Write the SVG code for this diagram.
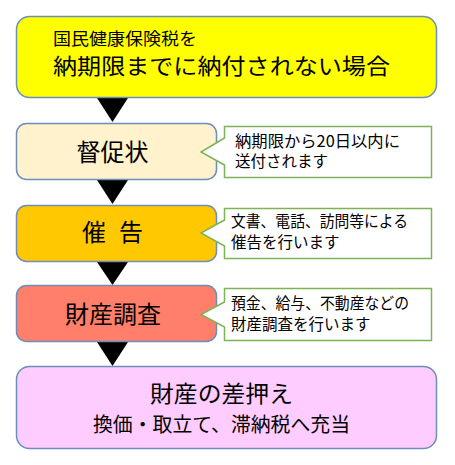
<svg xmlns="http://www.w3.org/2000/svg" width="455" height="465" viewBox="0 0 455 465">
<style>
.box{stroke:#6D8EBD;stroke-width:1.5}
.call{fill:#FFFFFF;stroke:#7DB354;stroke-width:1.5}
.arr{fill:#000000}
text{font-family:"Noto Sans CJK JP","Noto Sans CJK SC",sans-serif;fill:#000}
.big{font-size:24px;text-anchor:middle}
.note{font-size:15.5px}
</style>
<rect width="455" height="465" fill="#FFFFFF"/>
<g id="connectors">
<polygon class="arr" points="97,98 128,98 112.5,122"/>
<polygon class="arr" points="97,180 128,180 112.5,204"/>
<polygon class="arr" points="97,262 128,262 112.5,285"/>
<polygon class="arr" points="97,342 128,342 112.5,366"/>
</g>
<g id="start">
<rect class="box" x="16.5" y="16.5" width="420" height="81" rx="13" fill="#FFFF00"/>
<text x="53" y="45" font-size="16.5" textLength="144" lengthAdjust="spacingAndGlyphs">国民健康保険税を</text>
<text x="53" y="74" font-size="22" textLength="337" lengthAdjust="spacingAndGlyphs">納期限までに納付されない場合</text>
</g>
<g id="tokusoku">
<rect class="box" x="16.5" y="123.5" width="200" height="56" rx="10" fill="#FFF2CC"/>
<text class="big" x="112.5" y="161">督促状</text>
</g>
<g id="tokusoku-note">
<path class="call" d="M224.5,126.5 H431.5 V177.5 H224.5 V165 L201,152 L224.5,138 Z"/>
<text class="note" x="235" y="147" textLength="165" lengthAdjust="spacingAndGlyphs">納期限から20日以内に</text>
<text class="note" x="235" y="167">送付されます</text>
</g>
<g id="saikoku">
<rect class="box" x="16.5" y="205.5" width="200" height="56" rx="10" fill="#FFC800"/>
<text x="82" y="241" font-size="24">催<tspan x="119">告</tspan></text>
</g>
<g id="saikoku-note">
<path class="call" d="M224.5,208.5 H431.5 V258.5 H224.5 V246 L201,233 L224.5,220 Z"/>
<text class="note" x="231" y="227" textLength="177" lengthAdjust="spacingAndGlyphs">文書、電話、訪問等による</text>
<text class="note" x="231" y="247.5">催告を行います</text>
</g>
<g id="chousa">
<rect class="box" x="16.5" y="285.5" width="200" height="56" rx="10" fill="#FF7F6A"/>
<text class="big" x="113" y="323">財産調査</text>
</g>
<g id="chousa-note">
<path class="call" d="M224.5,288.5 H431.5 V340.5 H224.5 V327 L201,314.5 L224.5,302 Z"/>
<text class="note" x="231" y="309" textLength="178" lengthAdjust="spacingAndGlyphs">預金、給与、不動産などの</text>
<text class="note" x="231" y="330">財産調査を行います</text>
</g>
<g id="sashiosae">
<rect class="box" x="16.5" y="366.5" width="420" height="82" rx="13" fill="#FFCCFF"/>
<text x="150" y="402" font-size="23" textLength="143" lengthAdjust="spacingAndGlyphs">財産の差押え</text>
<text x="93" y="432" font-size="20" textLength="257" lengthAdjust="spacingAndGlyphs">換価・取立て、滞納税へ充当</text>
</g>
</svg>
